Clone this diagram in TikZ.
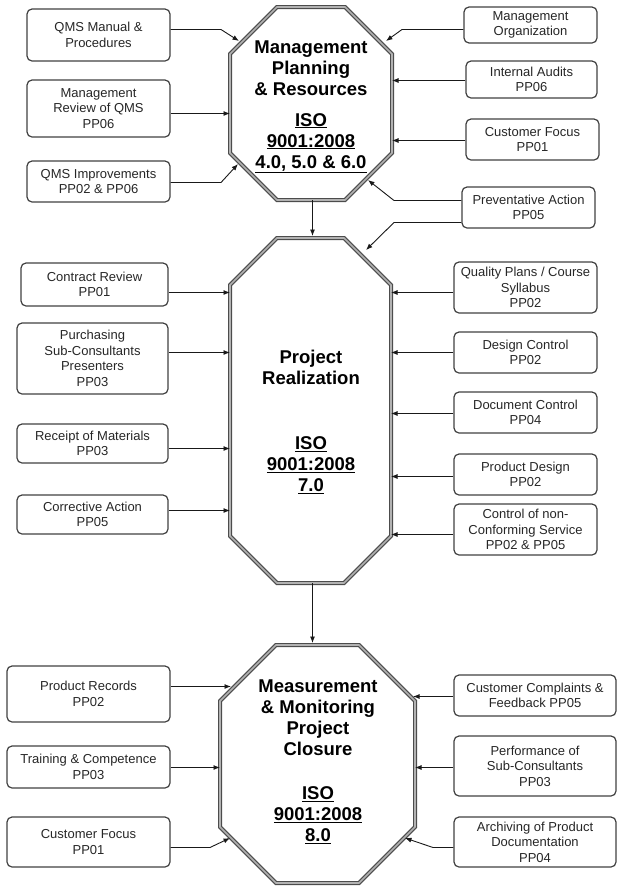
\documentclass[tikz,border=0pt]{standalone}
\usepackage{fontspec}
\setmainfont{Liberation Sans}
\usetikzlibrary{arrows.meta}
\begin{document}
\begin{tikzpicture}[x=1pt,y=-1pt,
  box/.style={draw=black!75, line width=1.2pt, rounded corners=5pt, align=center, text=black!85, font=\fontsize{13}{15.5}\selectfont, inner sep=1pt},
  oct/.style={draw=black!70, line width=1.2pt, double=black!30, double distance=1.6pt, line join=miter},
  arr/.style={draw=black!90, line width=0.9pt, -{Latex[length=6.5pt,width=5pt]}},
  ttl/.style={font=\bfseries\fontsize{18.5}{21}\selectfont, align=center},
]
\path[use as bounding box] (0,0) rectangle (618,887);

% octagons
\draw[oct] (277,7) -- (345,7) -- (392,54) -- (392,153) -- (345,200) -- (277,200) -- (230,153) -- (230,54) -- cycle;
\draw[oct] (277,238) -- (344,238) -- (391,285) -- (391,536) -- (344,583) -- (277,583) -- (230,536) -- (230,285) -- cycle;
\draw[oct] (276,645) -- (359,645) -- (415,701) -- (415,827) -- (359,883) -- (276,883) -- (220,827) -- (220,701) -- cycle;

% octagon texts
\node[ttl] (t1) at (311,68) {Management\\Planning\\\& Resources};
\node[ttl] (iso1) at (311,143) {\underline{ISO}\\\underline{9001:2008}\\\underline{4.0, 5.0 \& 6.0}};
\node[ttl] (t2) at (311,367) {Project\\Realization};
\node[ttl] (iso2) at (311,465) {\underline{ISO}\\\underline{9001:2008}\\\underline{7.0}};
\node[ttl] (t3) at (318,718) {Measurement\\\& Monitoring\\Project\\Closure};
\node[ttl] (iso3) at (318,815) {\underline{ISO}\\\underline{9001:2008}\\\underline{8.0}};

% boxes, top
\node[box, minimum width=143, minimum height=52] (qms) at (98.5,35) {QMS Manual \&\\Procedures};
\node[box, minimum width=143, minimum height=57] (mrev) at (98.5,108.5) {Management\\Review of QMS\\PP06};
\node[box, minimum width=143, minimum height=41] (qimp) at (98.5,181.5) {QMS Improvements\\PP02 \& PP06};
\node[box, minimum width=133, minimum height=36] (morg) at (530.5,25) {Management\\Organization};
\node[box, minimum width=131, minimum height=37] (iaud) at (531.5,79.5) {Internal Audits\\PP06};
\node[box, minimum width=133, minimum height=41] (cfoc) at (532.5,139.5) {Customer Focus\\PP01};
\node[box, minimum width=133, minimum height=41] (prev) at (528.5,207.5) {Preventative Action\\PP05};

% boxes, middle
\node[box, minimum width=147, minimum height=43] (crev) at (94.5,284.5) {Contract Review\\PP01};
\node[box, minimum width=151, minimum height=71] (purch) at (92.5,358.5) {Purchasing\\Sub-Consultants\\Presenters\\PP03};
\node[box, minimum width=151, minimum height=39] (rmat) at (92.5,443.5) {Receipt of Materials\\PP03};
\node[box, minimum width=151, minimum height=39] (cact) at (92.5,514.5) {Corrective Action\\PP05};
\node[box, minimum width=143, minimum height=51] (qplan) at (525.5,287.5) {Quality Plans / Course\\Syllabus\\PP02};
\node[box, minimum width=143, minimum height=41] (dctl) at (525.5,352.5) {Design Control\\PP02};
\node[box, minimum width=143, minimum height=41] (docc) at (525.5,412.5) {Document Control\\PP04};
\node[box, minimum width=143, minimum height=41] (pdes) at (525.5,474.5) {Product Design\\PP02};
\node[box, minimum width=143, minimum height=51] (ncs) at (525.5,529.5) {Control of non-\\Conforming Service\\PP02 \& PP05};

% boxes, bottom
\node[box, minimum width=163, minimum height=56] (prec) at (88.5,694) {Product Records\\PP02};
\node[box, minimum width=163, minimum height=42] (train) at (88.5,767) {Training \& Competence\\PP03};
\node[box, minimum width=163, minimum height=50] (cfoc2) at (88.5,842) {Customer Focus\\PP01};
\node[box, minimum width=162, minimum height=41] (ccomp) at (535,695.5) {Customer Complaints \&\\Feedback PP05};
\node[box, minimum width=162, minimum height=60] (perf) at (535,766) {Performance of\\Sub-Consultants\\PP03};
\node[box, minimum width=162, minimum height=50] (arch) at (535,842) {Archiving of Product\\Documentation\\PP04};

% connector coordinates
\coordinate (b1) at (221,29.5);   \coordinate (e1) at (239,41);
\coordinate (e2) at (230,113.5);
\coordinate (b3) at (221,182.5);  \coordinate (e3) at (238,164);
\coordinate (b4) at (402,29.5);   \coordinate (e4) at (386,41);
\coordinate (e5) at (392,80.5);
\coordinate (e6) at (392,140.5);
\coordinate (b7) at (394,200.5);  \coordinate (e7) at (368,180);
\coordinate (b8) at (394,222.5);  \coordinate (e8) at (366,250);
\coordinate (o1s) at (312.5,200); \coordinate (o2n) at (312.5,236);
\coordinate (o2s) at (312.5,583); \coordinate (o3n) at (312.5,643);
\coordinate (e9) at (230,292.5);
\coordinate (e10) at (230,352.5);
\coordinate (e11) at (230,448.5);
\coordinate (e12) at (230,510.5);
\coordinate (e13) at (391,292.5);
\coordinate (e14) at (391,352.5);
\coordinate (e15) at (391,413.5);
\coordinate (e16) at (391,476.5);
\coordinate (e17) at (391,534.5);
\coordinate (e18) at (231,686.5);
\coordinate (e19) at (220,767.5);
\coordinate (b20) at (210,847.5); \coordinate (e20) at (230,838);
\coordinate (e21) at (413,696.5);
\coordinate (e22) at (415,767.5);
\coordinate (b23) at (433,847.5); \coordinate (e23) at (405,838);

% connectors
\draw[arr] (qms.east |- b1) -- (b1) -- (e1);
\draw[arr] (mrev.east |- e2) -- (e2);
\draw[arr] (qimp.east |- b3) -- (b3) -- (e3);
\draw[arr] (morg.west |- b4) -- (b4) -- (e4);
\draw[arr] (iaud.west |- e5) -- (e5);
\draw[arr] (cfoc.west |- e6) -- (e6);
\draw[arr] (prev.west |- b7) -- (b7) -- (e7);
\draw[arr] (prev.west |- b8) -- (b8) -- (e8);
\draw[arr] (o1s) -- (o2n);
\draw[arr] (o2s) -- (o3n);
\draw[arr] (crev.east |- e9) -- (e9);
\draw[arr] (purch.east |- e10) -- (e10);
\draw[arr] (rmat.east |- e11) -- (e11);
\draw[arr] (cact.east |- e12) -- (e12);
\draw[arr] (qplan.west |- e13) -- (e13);
\draw[arr] (dctl.west |- e14) -- (e14);
\draw[arr] (docc.west |- e15) -- (e15);
\draw[arr] (pdes.west |- e16) -- (e16);
\draw[arr] (ncs.west |- e17) -- (e17);
\draw[arr] (prec.east |- e18) -- (e18);
\draw[arr] (train.east |- e19) -- (e19);
\draw[arr] (cfoc2.east |- b20) -- (b20) -- (e20);
\draw[arr] (ccomp.west |- e21) -- (e21);
\draw[arr] (perf.west |- e22) -- (e22);
\draw[arr] (arch.west |- b23) -- (b23) -- (e23);
\end{tikzpicture}
\end{document}
